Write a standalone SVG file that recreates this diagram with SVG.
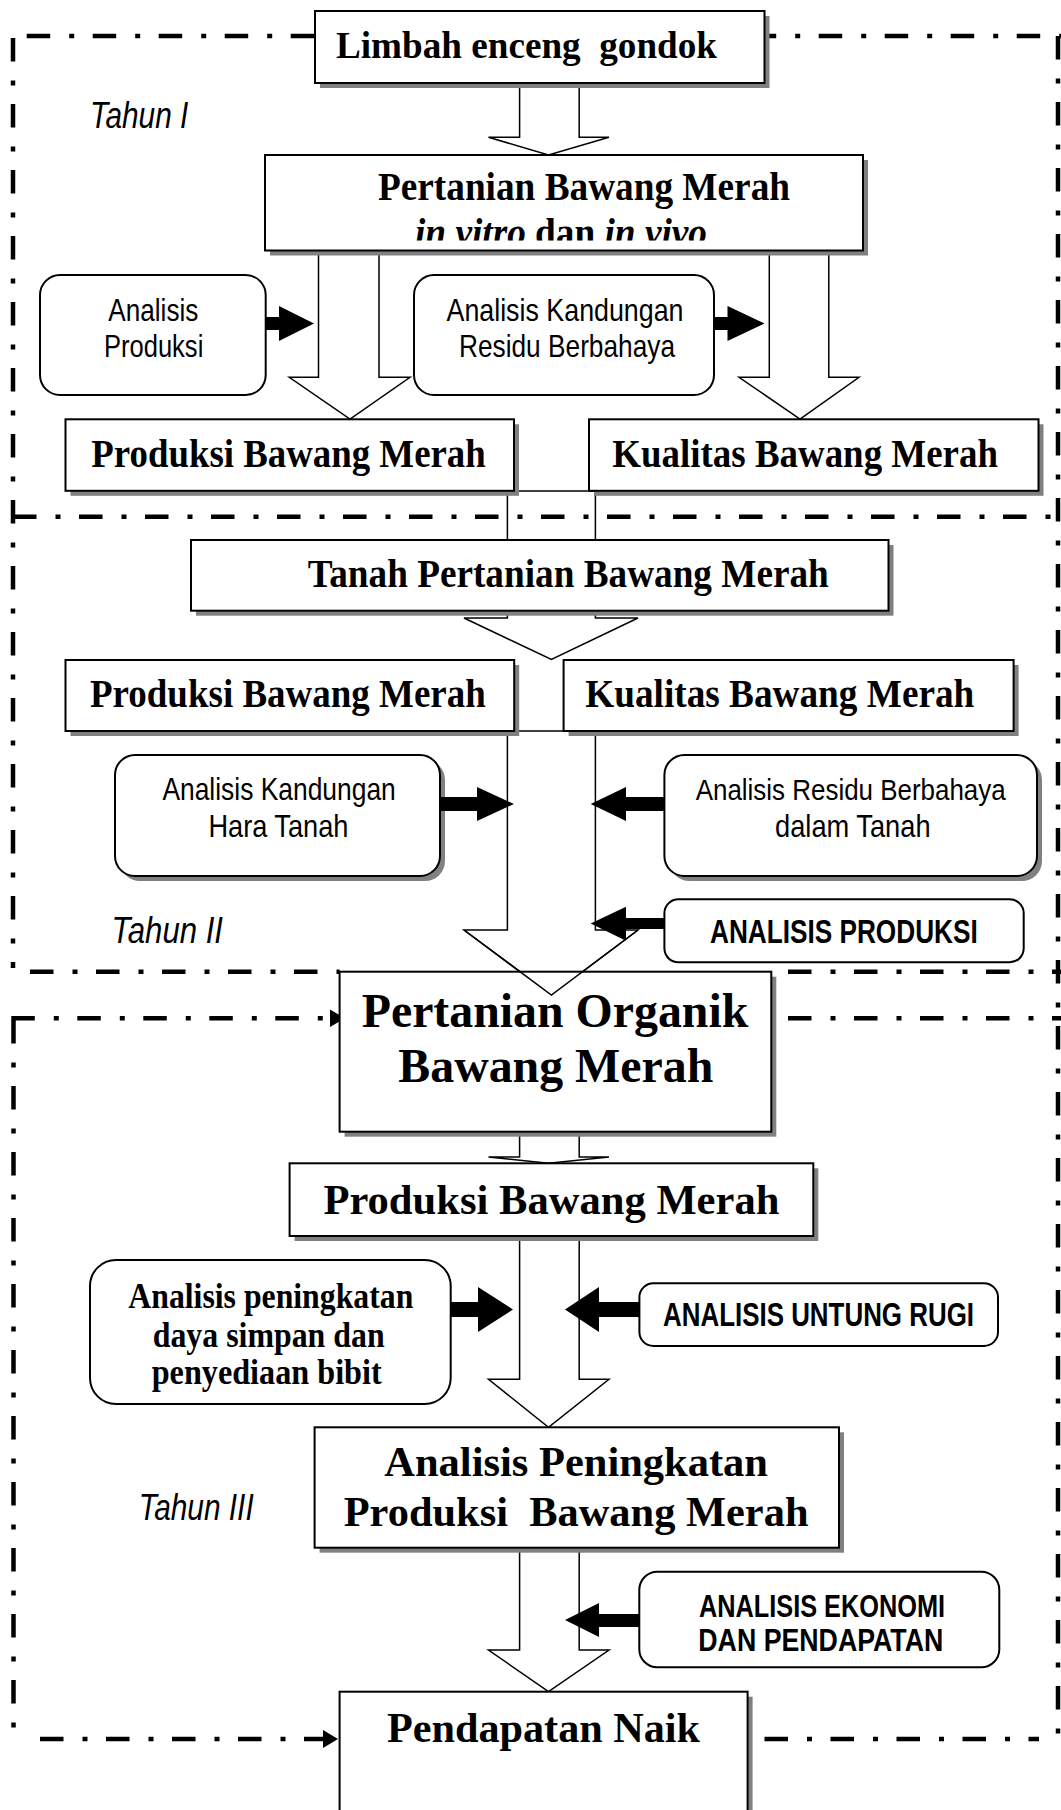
<svg xmlns="http://www.w3.org/2000/svg" width="1061" height="1810" viewBox="0 0 1061 1810">
<style>
.box{fill:#fff;stroke:#000;stroke-width:2}
.sh{fill:#808080}
.hol{fill:#fff;stroke:#000;stroke-width:1.5}
.holn{fill:none;stroke:#000;stroke-width:1.5}
.blk{fill:#000}
.bd{fill:none;stroke:#000;stroke-width:4.5;stroke-dasharray:23.5 19 5 18.5}
.t{font-family:"Liberation Serif","Times New Roman",serif;font-weight:bold;fill:#000;white-space:pre}
.s{font-family:"Liberation Sans",Arial,sans-serif;fill:#000;white-space:pre}
.sb{font-family:"Liberation Sans",Arial,sans-serif;font-weight:bold;fill:#000}
.yr{font-family:"Liberation Sans",Arial,sans-serif;font-style:italic;fill:#000}
</style>
<defs>
<clipPath id="clipVitro"><rect x="260" y="150" width="610" height="90.5"/></clipPath>
</defs>
<rect width="1061" height="1810" fill="#fff"/>

<g id="connectors">
<polygon class="hol" points="519.6,83 579.2,83 579.2,137.3 609,137.3 548.5,155 488.5,137.3 519.6,137.3"/>
<polygon class="hol" points="318.5,250.5 379,250.5 379,377.3 410,377.3 350,419 289.3,377.3 318.5,377.3"/>
<polygon class="hol" points="769.3,250.5 828.8,250.5 828.8,377.3 859,377.3 800,419 739,377.3 769.3,377.3"/>
<polygon class="hol" points="507.4,491 595.4,491 595.4,618 638,618 551.4,659.5 464,618 507.4,618"/>
<polygon class="hol" points="507.4,731 595.4,731 595.4,930 638,930 551.4,995 464,930 507.4,930"/>
<polygon class="hol" points="519.6,1131.7 579.2,1131.7 579.2,1157 609,1157 548.5,1163.3 488.5,1157 519.6,1157"/>
<polygon class="hol" points="519.6,1236 579.2,1236 579.2,1379.3 609,1379.3 548.5,1427.3 488.5,1379.3 519.6,1379.3"/>
<polygon class="hol" points="519.6,1548 579.2,1548 579.2,1650 609,1650 548.5,1691.7 488.5,1650 519.6,1650"/>
</g>

<g id="borders">
<line class="bd" x1="13" y1="38" x2="13" y2="968"/>
<line class="bd" x1="26.7" y1="36" x2="1061" y2="36"/>
<line class="bd" x1="13" y1="516.7" x2="1061" y2="516.7"/>
<line class="bd" x1="30" y1="971.7" x2="339.6" y2="971.7"/>
<line class="bd" x1="788" y1="971.7" x2="1061" y2="971.7"/>
<line class="bd" x1="11.3" y1="1018.3" x2="331" y2="1018.3"/>
<line class="bd" x1="788" y1="1018.3" x2="1061" y2="1018.3"/>
<line class="bd" x1="13.5" y1="1020" x2="13.5" y2="1730"/>
<line class="bd" x1="40" y1="1739" x2="323" y2="1739"/>
<line class="bd" x1="764.5" y1="1739" x2="1039" y2="1739"/>
<line class="bd" x1="1058" y1="36" x2="1058" y2="1739"/>
<polygon class="blk" points="330,1009.5 345,1018.3 330,1027"/>
<polygon class="blk" points="323,1730 338,1739 323,1748"/>
</g>

<g id="limbah">
<rect class="sh" x="320" y="16" width="449.5" height="72"/>
<rect class="box" x="315" y="11" width="449.5" height="72"/>
<text class="t" x="336" y="58" font-size="38" textLength="381" lengthAdjust="spacingAndGlyphs">Limbah enceng  gondok</text>
</g>

<g id="pertanian">
<rect class="sh" x="270" y="160" width="598" height="95.5"/>
<rect class="box" x="265" y="155" width="598" height="95.5"/>
<text class="t" x="378" y="200" font-size="39" textLength="412" lengthAdjust="spacingAndGlyphs">Pertanian Bawang Merah</text>
<text class="t" x="415" y="246" font-size="39" textLength="292" lengthAdjust="spacingAndGlyphs" clip-path="url(#clipVitro)"><tspan font-style="italic">in vitro</tspan> dan <tspan font-style="italic">in vivo</tspan></text>
</g>

<g id="produksi1">
<rect class="sh" x="70.5" y="424.3" width="448.5" height="71.5"/>
<rect class="box" x="65.5" y="419.3" width="448.5" height="71.5"/>
<text class="t" x="91.3" y="467" font-size="41" textLength="394.5" lengthAdjust="spacingAndGlyphs">Produksi Bawang Merah</text>
</g>

<g id="kualitas1">
<rect class="sh" x="594" y="424.3" width="449.5" height="71.5"/>
<rect class="box" x="589" y="419.3" width="449.5" height="71.5"/>
<text class="t" x="612.3" y="467" font-size="41" textLength="385.7" lengthAdjust="spacingAndGlyphs">Kualitas Bawang Merah</text>
</g>

<g id="analisis-produksi-1">
<rect class="box" x="40" y="275" width="225.7" height="120" rx="20"/>
<text class="s" x="108.3" y="320.7" font-size="32" textLength="90" lengthAdjust="spacingAndGlyphs">Analisis</text>
<text class="s" x="104" y="357.3" font-size="32" textLength="99.3" lengthAdjust="spacingAndGlyphs">Produksi</text>
</g>

<g id="analisis-residu-1">
<rect class="box" x="414" y="275" width="300" height="120" rx="20"/>
<text class="s" x="446.5" y="320.7" font-size="32" textLength="237" lengthAdjust="spacingAndGlyphs">Analisis Kandungan</text>
<text class="s" x="459" y="357.3" font-size="32" textLength="216" lengthAdjust="spacingAndGlyphs">Residu Berbahaya</text>
</g>

<g id="tanah">
<rect class="sh" x="196" y="545" width="697.5" height="70.7"/>
<rect class="box" x="191" y="540" width="697.5" height="70.7"/>
<text class="t" x="307.8" y="587" font-size="41" textLength="521" lengthAdjust="spacingAndGlyphs">Tanah Pertanian Bawang Merah</text>
</g>

<g id="produksi2">
<rect class="sh" x="70.5" y="665" width="448.7" height="71"/>
<rect class="box" x="65.5" y="660" width="448.7" height="71"/>
<text class="t" x="90" y="707" font-size="41" textLength="395.8" lengthAdjust="spacingAndGlyphs">Produksi Bawang Merah</text>
</g>

<g id="kualitas2">
<rect class="sh" x="568.6" y="665" width="450" height="71"/>
<rect class="box" x="563.6" y="660" width="450" height="71"/>
<text class="t" x="585.3" y="707" font-size="40" textLength="389" lengthAdjust="spacingAndGlyphs">Kualitas Bawang Merah</text>
</g>

<g id="analisis-hara">
<rect class="sh" x="120" y="760" width="325" height="121" rx="20"/>
<rect class="box" x="115" y="755" width="325" height="121" rx="20"/>
<text class="s" x="162.4" y="800" font-size="32" textLength="233.4" lengthAdjust="spacingAndGlyphs">Analisis Kandungan</text>
<text class="s" x="208.4" y="837" font-size="32" textLength="140" lengthAdjust="spacingAndGlyphs">Hara Tanah</text>
</g>

<g id="analisis-residu-tanah">
<rect class="sh" x="669.4" y="760" width="372.6" height="121" rx="20"/>
<rect class="box" x="664.4" y="755" width="372.6" height="121" rx="20"/>
<text class="s" x="850.7" y="800" font-size="29" text-anchor="middle" textLength="310" lengthAdjust="spacingAndGlyphs">Analisis Residu Berbahaya</text>
<text class="s" x="852.8" y="837" font-size="32" text-anchor="middle" textLength="155.6" lengthAdjust="spacingAndGlyphs">dalam Tanah</text>
</g>

<g id="analisis-produksi-2">
<rect class="box" x="664.4" y="899.3" width="359.3" height="63" rx="14"/>
<text class="sb" x="710" y="942.5" font-size="33" textLength="267.7" lengthAdjust="spacingAndGlyphs">ANALISIS PRODUKSI</text>
</g>

<g id="pertanian-organik">
<rect class="sh" x="344.6" y="976.7" width="431.7" height="160"/>
<rect class="box" x="339.6" y="971.7" width="431.7" height="160"/>
<polyline class="holn" points="464,930 551.4,995 638,930"/>
<text class="t" x="361.7" y="1026.7" font-size="48" textLength="386.6" lengthAdjust="spacingAndGlyphs">Pertanian Organik</text>
<text class="t" x="398.3" y="1081.7" font-size="48" textLength="315" lengthAdjust="spacingAndGlyphs">Bawang Merah</text>
</g>

<g id="produksi3">
<rect class="sh" x="294.6" y="1168.3" width="523.7" height="72.7"/>
<rect class="box" x="289.6" y="1163.3" width="523.7" height="72.7"/>
<text class="t" x="323.4" y="1214" font-size="43" textLength="456" lengthAdjust="spacingAndGlyphs">Produksi Bawang Merah</text>
</g>

<g id="analisis-daya-simpan">
<rect class="box" x="90" y="1260" width="360.7" height="144" rx="26"/>
<text class="t" x="128.3" y="1308" font-size="35" textLength="285" lengthAdjust="spacingAndGlyphs">Analisis peningkatan</text>
<text class="t" x="152.7" y="1346.5" font-size="35" textLength="232" lengthAdjust="spacingAndGlyphs">daya simpan dan</text>
<text class="t" x="151.7" y="1384" font-size="35" textLength="230" lengthAdjust="spacingAndGlyphs">penyediaan bibit</text>
</g>

<g id="analisis-untung-rugi">
<rect class="box" x="639.4" y="1283.3" width="358.6" height="62.7" rx="14"/>
<text class="sb" x="663" y="1326" font-size="33" textLength="311" lengthAdjust="spacingAndGlyphs">ANALISIS UNTUNG RUGI</text>
</g>

<g id="analisis-peningkatan-produksi">
<rect class="sh" x="319.6" y="1432.3" width="524.4" height="120.4"/>
<rect class="box" x="314.6" y="1427.3" width="524.4" height="120.4"/>
<text class="t" x="384.3" y="1476" font-size="43" textLength="383.7" lengthAdjust="spacingAndGlyphs">Analisis Peningkatan</text>
<text class="t" x="343.7" y="1526" font-size="43" textLength="464.8" lengthAdjust="spacingAndGlyphs">Produksi  Bawang Merah</text>
</g>

<g id="analisis-ekonomi">
<rect class="box" x="639.3" y="1571.7" width="360" height="95.6" rx="18"/>
<text class="sb" x="699" y="1617" font-size="32" textLength="246" lengthAdjust="spacingAndGlyphs">ANALISIS EKONOMI</text>
<text class="sb" x="698.3" y="1651" font-size="32" textLength="245" lengthAdjust="spacingAndGlyphs">DAN PENDAPATAN</text>
</g>

<g id="pendapatan">
<rect class="sh" x="344.6" y="1696.7" width="408" height="140"/>
<rect class="box" x="339.6" y="1691.7" width="408" height="140"/>
<text class="t" x="387" y="1742" font-size="43" textLength="313" lengthAdjust="spacingAndGlyphs">Pendapatan Naik</text>
</g>

<g id="labels">
<text class="yr" x="90" y="128.3" font-size="37" textLength="98.3" lengthAdjust="spacingAndGlyphs">Tahun I</text>
<text class="yr" x="111.6" y="942.7" font-size="37" textLength="111.4" lengthAdjust="spacingAndGlyphs">Tahun II</text>
<text class="yr" x="138.7" y="1520" font-size="37" textLength="115" lengthAdjust="spacingAndGlyphs">Tahun III</text>
</g>

<g id="block-arrows">
<polygon class="blk" points="265,317 279,317 279,306 314,323.5 279,341 279,330 265,330"/>
<polygon class="blk" points="714,317 727.5,317 727.5,306 764.5,323.5 727.5,341 727.5,330 714,330"/>
<polygon class="blk" points="440,797 477,797 477,787 514,804 477,821 477,811 440,811"/>
<polygon class="blk" points="664.4,797 626,797 626,787 590.7,804 626,821 626,811 664.4,811"/>
<polygon class="blk" points="664.4,918 626,918 626,906.7 590.7,923.5 626,940.7 626,929 664.4,929"/>
<polygon class="blk" points="450.7,1302 478,1302 478,1287 513,1309.5 478,1332 478,1317 450.7,1317"/>
<polygon class="blk" points="639.4,1302 599,1302 599,1287 565,1309.5 599,1332 599,1317 639.4,1317"/>
<polygon class="blk" points="639.3,1614 599,1614 599,1603 565,1620 599,1637 599,1627 639.3,1627"/>
</g>
</svg>
